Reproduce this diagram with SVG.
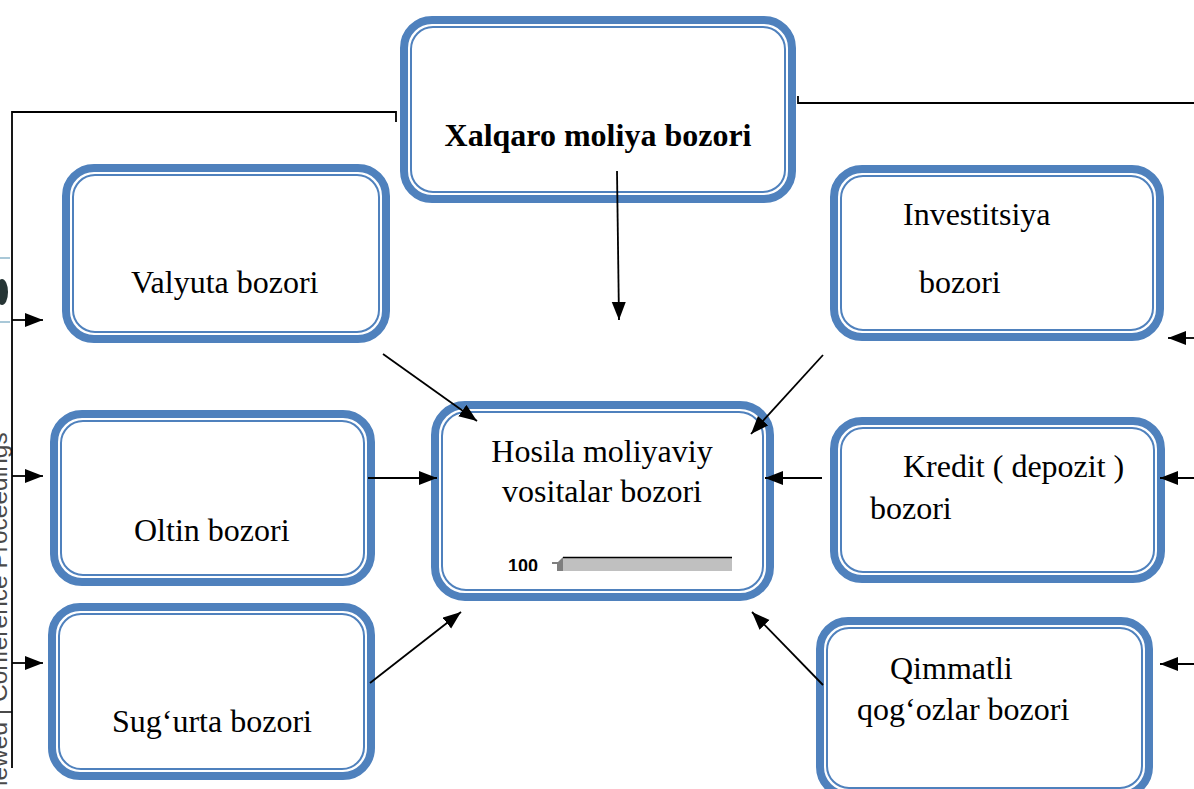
<svg xmlns="http://www.w3.org/2000/svg" width="1194" height="789" viewBox="0 0 1194 789">
<style>
.outer{fill:#fff;stroke:#4F81BD;stroke-width:8}
.inner{fill:none;stroke:#4F81BD;stroke-width:2}
.t{font-family:"Liberation Serif","Times New Roman",serif;font-size:32px;fill:#000}
.tb{font-family:"Liberation Serif","Times New Roman",serif;font-size:32px;font-weight:bold;fill:#000}
.c{stroke:#000;stroke-width:1.8;fill:none}
.ca{stroke:#000;stroke-width:1.8;fill:none;marker-end:url(#ah)}
</style>
<defs>
<marker id="ah" markerUnits="userSpaceOnUse" markerWidth="20" markerHeight="16" refX="18" refY="7" orient="auto">
<path d="M0,0 L18,7 L0,14 z" fill="#000"/>
</marker>
<clipPath id="chartclip"><rect x="500" y="540" width="240" height="31"/></clipPath>
</defs>
<rect width="1194" height="789" fill="#fff"/>

<g id="page-edge">
<line x1="0" y1="258" x2="10" y2="258" stroke="#a9c8d8" stroke-width="2"/>
<line x1="0" y1="322" x2="10" y2="322" stroke="#a9c8d8" stroke-width="2"/>
<ellipse cx="2" cy="292" rx="6" ry="13" fill="#263535"/>
<text transform="translate(7,786) rotate(-90)" font-family="'Liberation Sans',Arial,sans-serif" font-size="24.5" fill="#4a4a4a">iewed | Conference Proceedings</text>
</g>

<g id="xalqaro">
<rect class="outer" x="404" y="20" width="388" height="179" rx="28"/>
<rect class="inner" x="411" y="27" width="374" height="165" rx="22"/>
<text class="tb" x="598" y="146" text-anchor="middle">Xalqaro moliya bozori</text>
</g>

<g id="valyuta">
<rect class="outer" x="66" y="168" width="320" height="171" rx="28"/>
<rect class="inner" x="73" y="175" width="306" height="157" rx="22"/>
<text class="t" x="131" y="293">Valyuta bozori</text>
</g>

<g id="investitsiya">
<rect class="outer" x="834" y="169" width="326" height="168" rx="28"/>
<rect class="inner" x="841" y="176" width="312" height="154" rx="22"/>
<text class="t" x="903" y="225">Investitsiya</text>
<text class="t" x="919" y="293">bozori</text>
</g>

<g id="oltin">
<rect class="outer" x="54" y="414" width="317" height="168" rx="28"/>
<rect class="inner" x="61" y="421" width="303" height="154" rx="22"/>
<text class="t" x="134" y="541">Oltin bozori</text>
</g>

<g id="hosila">
<rect class="outer" x="435" y="405" width="335" height="192" rx="30"/>
<rect class="inner" x="442" y="412" width="321" height="178" rx="24"/>
<text class="t" x="602" y="462" text-anchor="middle">Hosila moliyaviy</text>
<text class="t" x="602" y="502" text-anchor="middle">vositalar bozori</text>
<g clip-path="url(#chartclip)">
<text x="508" y="572" font-family="'Liberation Sans',Arial,sans-serif" font-size="18" font-weight="bold" fill="#000">100</text>
<line x1="552" y1="563" x2="562" y2="563" stroke="#000" stroke-width="1"/>
<polygon points="557,571 557,563 563,557 566,557 566,571" fill="#7f7f7f"/>
<rect x="563" y="557" width="169" height="14" fill="#c0c0c0"/>
<line x1="563" y1="557.5" x2="732" y2="557.5" stroke="#000" stroke-width="1.6"/>
</g>
</g>

<g id="kredit">
<rect class="outer" x="834" y="421" width="327" height="158" rx="28"/>
<rect class="inner" x="841" y="428" width="313" height="144" rx="22"/>
<text class="t" x="903" y="477">Kredit ( depozit )</text>
<text class="t" x="870" y="519">bozori</text>
</g>

<g id="sugurta">
<rect class="outer" x="52" y="607" width="319" height="169" rx="28"/>
<rect class="inner" x="59" y="614" width="305" height="155" rx="22"/>
<text class="t" x="112" y="732">Sug‘urta bozori</text>
</g>

<g id="qimmatli">
<rect class="outer" x="820" y="621" width="329" height="174" rx="28"/>
<rect class="inner" x="827" y="628" width="315" height="160" rx="22"/>
<text class="t" x="890" y="679">Qimmatli</text>
<text class="t" x="857" y="720">qog‘ozlar bozori</text>
</g>

<g id="connectors">
<polyline class="c" points="12,768 12,112 396,112 396,122"/>
<polyline class="c" points="1194,103 798,103 798,96"/>
<line class="ca" x1="12" y1="320" x2="43" y2="320"/>
<line class="ca" x1="12" y1="476" x2="43" y2="476"/>
<line class="ca" x1="12" y1="663" x2="43" y2="663"/>
<line class="ca" x1="1194" y1="338" x2="1168" y2="338"/>
<line class="ca" x1="1194" y1="478" x2="1160" y2="478"/>
<line class="ca" x1="1194" y1="664" x2="1160" y2="664"/>
<line class="ca" x1="617" y1="171" x2="619" y2="320"/>
<line class="ca" x1="383" y1="354" x2="477" y2="421"/>
<line class="ca" x1="823" y1="355" x2="751" y2="434"/>
<line class="ca" x1="368" y1="478" x2="437" y2="478"/>
<line class="ca" x1="822" y1="478" x2="765" y2="478"/>
<line class="ca" x1="370" y1="683" x2="461" y2="612"/>
<line class="ca" x1="823" y1="685" x2="752" y2="612"/>
</g>
</svg>
